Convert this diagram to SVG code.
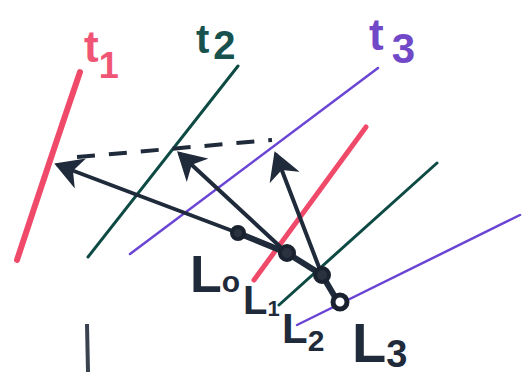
<svg xmlns="http://www.w3.org/2000/svg" width="526" height="374" viewBox="0 0 526 374">
<style>
.red{stroke:#f04a6a;fill:none;stroke-linecap:round}
.teal{stroke:#0e4a44;fill:none;stroke-width:3;stroke-linecap:round}
.purple{stroke:#6a44d4;fill:none;stroke-width:2.5;stroke-linecap:round}
.arr{stroke:#1f2a3a;stroke-width:4;fill:none;stroke-linecap:round;marker-end:url(#ah)}
.chain{stroke:#1f2a3a;stroke-width:6;fill:none;stroke-linecap:round}
.dash{stroke:#1f2a3a;stroke-width:4;fill:none;stroke-dasharray:18 14}
.node{fill:#2a3240;stroke:#1a2230;stroke-width:4}
.lab{font-family:"Liberation Sans",Arial,sans-serif;font-weight:bold;fill:#1f2a3a}
.tl{font-family:"Liberation Sans",Arial,sans-serif;font-weight:bold}
</style>
<defs>
<marker id="ah" markerWidth="8" markerHeight="8" refX="6" refY="4" orient="auto" markerUnits="strokeWidth">
<path d="M0,0 L7,4 L0,8 L2,4 Z" fill="#1f2a3a"/>
</marker>
</defs>
<rect width="526" height="374" fill="#ffffff"/>
<g id="lines">
<path class="red" stroke-width="6" d="M80,72 Q50,160 17,260"/>
<line class="teal" x1="238" y1="66" x2="88" y2="257"/>
<line class="purple" x1="378" y1="68" x2="130" y2="254"/>
<line class="red" stroke-width="5" x1="366" y1="127" x2="254" y2="280"/>
<line class="teal" x1="437" y1="163" x2="279" y2="305"/>
<line class="purple" x1="520" y1="215" x2="297" y2="325"/>
<line x1="87" y1="324" x2="88" y2="372" stroke="#3a4250" stroke-width="4"/>
</g>
<g id="connectors">
<line class="dash" x1="77" y1="157" x2="272" y2="140"/>
<polyline class="chain" points="238,233 287,253 322,275 338,302"/>
<line class="arr" x1="238" y1="233" x2="58" y2="165"/>
<line class="arr" x1="287" y1="253" x2="180" y2="154"/>
<line class="arr" x1="322" y1="275" x2="276" y2="155"/>
</g>
<g id="L0"><circle class="node" cx="238" cy="233" r="6"/><text class="lab" x="190" y="292" font-size="52">L<tspan font-size="30">o</tspan></text></g>
<g id="L1"><circle class="node" cx="287" cy="253" r="7"/><text class="lab" x="243" y="314" font-size="40">L<tspan font-size="22" dy="2">1</tspan></text></g>
<g id="L2"><circle class="node" cx="322" cy="275" r="7"/><text class="lab" x="282" y="343" font-size="42">L<tspan font-size="30" dy="8">2</tspan></text></g>
<g id="L3"><circle cx="340" cy="302" r="7" fill="#ffffff" stroke="#1a2230" stroke-width="5"/><text class="lab" x="352" y="362" font-size="56">L<tspan font-size="38" dy="5">3</tspan></text></g>
<g id="t1"><text class="tl" x="84" y="62" font-size="44" fill="#f05575">t<tspan font-size="36" dy="16">1</tspan></text></g>
<g id="t2"><text class="tl" x="196" y="53" font-size="40" fill="#17524e">t<tspan font-size="40" dx="4" dy="6">2</tspan></text></g>
<g id="t3"><text class="tl" x="369" y="50" font-size="44" fill="#7048c8">t<tspan font-size="42" dx="8" dy="13">3</tspan></text></g>
</svg>
